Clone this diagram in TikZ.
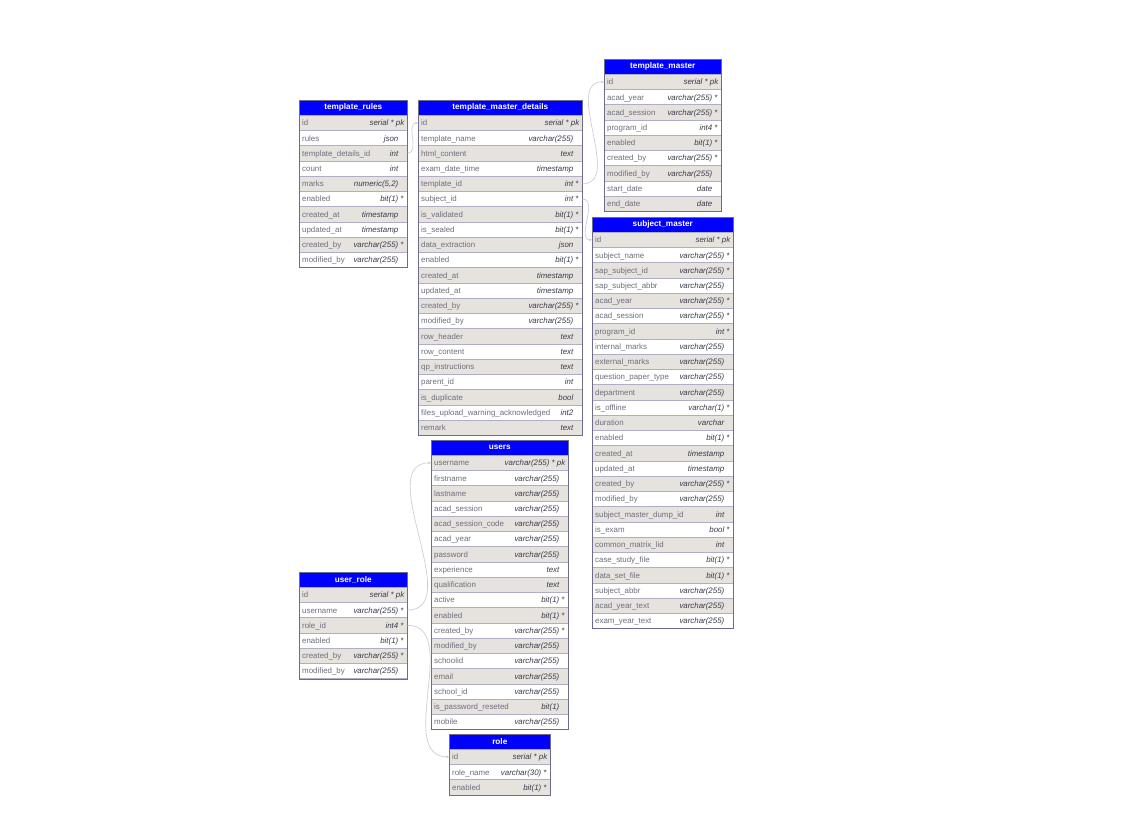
\documentclass[tikz,border=0pt]{standalone}
\usepackage{fontspec}
\setmainfont{Liberation Sans}
\usetikzlibrary{arrows.meta}
\definecolor{hdrblue}{HTML}{0000FF}
\definecolor{rowgray}{HTML}{E6E2DE}
\definecolor{rowline}{HTML}{B0AEC4}
\definecolor{tblborder}{HTML}{6E6C8C}
\definecolor{nametxt}{HTML}{6E6E7E}
\definecolor{typetxt}{HTML}{3A3A4A}
\definecolor{connc}{HTML}{C8C8D8}
\newcommand\st{\rlap{\ *}}
\newcommand\pkend{\kern-6pt}
\tikzset{
  hdrbox/.style={fill=hdrblue, draw=tblborder, line width=0.6pt, minimum height=15pt, inner sep=0pt, text=white, font=\fontsize{8.2}{9}\selectfont\bfseries},
  rowbox/.style={draw=rowline, line width=0.5pt, minimum height=15.24pt, inner sep=0pt},
  nametext/.style={text=nametxt, font=\fontsize{7.9}{9}\selectfont, inner sep=0pt},
  typetext/.style={text=typetxt, font=\fontsize{7.9}{9}\selectfont\itshape, inner sep=0pt},
  conn/.style={draw=connc, line width=0.6pt, -{Stealth[length=3pt,width=2.5pt]}},
}
\newcommand\dbtable[7]{%
  \node[hdrbox, minimum width=#4pt, anchor=north west] (#1) at (#2,#3) {#5};
  \foreach \rn/\rt [count=\ri] in {#6} {
    \ifodd\ri \def\rc{rowgray}\else\def\rc{white}\fi
    \node[rowbox, fill=\rc, minimum width=#4pt, anchor=north west] (#1-\ri) at (#2, #3+15+\ri*15.24-15.24) {};
    \node[nametext, anchor=base west] (#1-\ri-n) at ([xshift=3pt,yshift=-2.9pt]#1-\ri.west) {\rn};
    \node[typetext, anchor=base east] (#1-\ri-t) at ([xshift=-9pt,yshift=-2.9pt]#1-\ri.east) {\rt};
  }
  \draw[tblborder, line width=0.8pt] (#1.north west) rectangle (#1-#7.south east);
}
\begin{document}
\begin{tikzpicture}[x=1pt,y=-1pt]
\useasboundingbox (0,0) rectangle (1133,837);
\fill[white] (0,0) rectangle (1133,837);

\dbtable{tr}{299}{100}{108}{template\_rules}{
 id/serial * pk\pkend, rules/json, template\_details\_id/int, count/int, marks/{numeric(5,2)},
 enabled/bit(1)\st, created\_at/timestamp, updated\_at/timestamp, created\_by/varchar(255)\st, modified\_by/varchar(255)}{10}

\dbtable{tmd}{418}{100}{164}{template\_master\_details}{
 id/serial * pk\pkend, template\_name/varchar(255), html\_content/text, exam\_date\_time/timestamp,
 template\_id/int\st, subject\_id/int\st, is\_validated/bit(1)\st, is\_sealed/bit(1)\st,
 data\_extraction/json, enabled/bit(1)\st, created\_at/timestamp, updated\_at/timestamp,
 created\_by/varchar(255)\st, modified\_by/varchar(255), row\_header/text, row\_content/text,
 qp\_instructions/text, parent\_id/int, is\_duplicate/bool, files\_upload\_warning\_acknowledged/int2,
 remark/text}{21}

\dbtable{tm}{604}{59}{117}{template\_master}{
 id/serial * pk\pkend, acad\_year/varchar(255)\st, acad\_session/varchar(255)\st, program\_id/int4\st,
 enabled/bit(1)\st, created\_by/varchar(255)\st, modified\_by/varchar(255), start\_date/date, end\_date/date}{9}

\dbtable{sm}{592}{217}{141}{subject\_master}{
 id/serial * pk\pkend, subject\_name/varchar(255)\st, sap\_subject\_id/varchar(255)\st,
 sap\_subject\_abbr/varchar(255), acad\_year/varchar(255)\st, acad\_session/varchar(255)\st,
 program\_id/int\st, internal\_marks/varchar(255), external\_marks/varchar(255),
 question\_paper\_type/varchar(255), department/varchar(255), is\_offline/varchar(1)\st,
 duration/varchar, enabled/bit(1)\st, created\_at/timestamp, updated\_at/timestamp,
 created\_by/varchar(255)\st, modified\_by/varchar(255), subject\_master\_dump\_id/int,
 is\_exam/bool\st, common\_matrix\_lid/int, case\_study\_file/bit(1)\st, data\_set\_file/bit(1)\st,
 subject\_abbr/varchar(255), acad\_year\_text/varchar(255), exam\_year\_text/varchar(255)}{26}

\dbtable{us}{431}{440}{137}{users}{
 username/varchar(255) * pk\pkend, firstname/varchar(255), lastname/varchar(255),
 acad\_session/varchar(255), acad\_session\_code/varchar(255), acad\_year/varchar(255),
 password/varchar(255), experience/text, qualification/text, active/bit(1)\st, enabled/bit(1)\st,
 created\_by/varchar(255)\st, modified\_by/varchar(255), schoolid/varchar(255), email/varchar(255),
 school\_id/varchar(255), is\_password\_reseted/bit(1), mobile/varchar(255)}{18}

\dbtable{ur}{299}{572}{108}{user\_role}{
 id/serial * pk\pkend, username/varchar(255)\st, role\_id/int4\st, enabled/bit(1)\st,
 created\_by/varchar(255)\st, modified\_by/varchar(255)}{6}

\dbtable{ro}{449}{734}{101}{role}{
 id/serial * pk\pkend, role\_name/varchar(30)\st, enabled/bit(1)\st}{3}

\draw[conn] (tr-3.east) to[out=0,in=180] (tmd-1.west);
\draw[conn] (tmd-5.east) to[out=0,in=180] (tm-1.west);
\draw[conn] (tmd-6.east) to[out=0,in=180] (sm-1.west);
\draw[conn] (ur-2.east) to[out=0,in=180] (us-1.west);
\draw[conn] (ur-3.east) to[out=0,in=180] (ro-1.west);
\end{tikzpicture}
\end{document}
